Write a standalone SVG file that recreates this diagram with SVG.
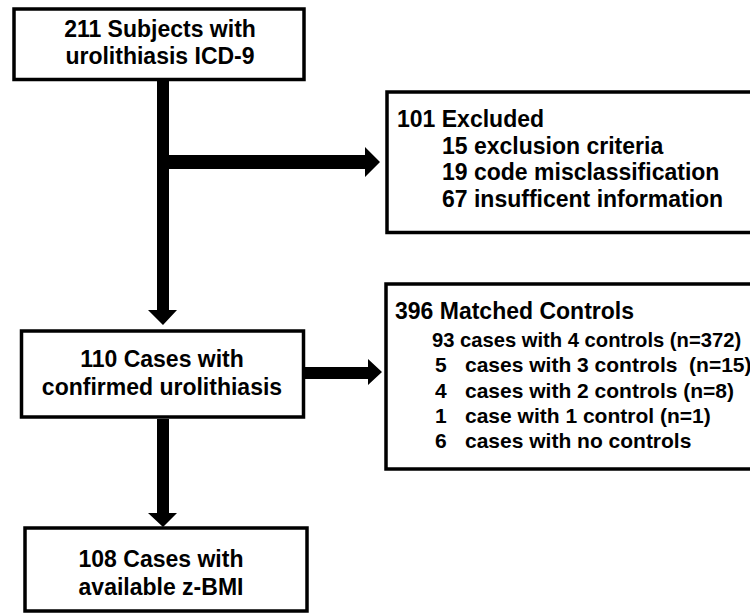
<svg xmlns="http://www.w3.org/2000/svg" width="750" height="614" viewBox="0 0 750 614">
  <style>
    .box { fill: #ffffff; stroke: #000000; stroke-width: 3.5; }
    .t { font-family: "Liberation Sans", Arial, sans-serif; font-weight: bold; font-size: 23px; fill: #000000; }
    .c { text-anchor: middle; }
    .s { font-size: 21px; white-space: pre; }
    .n { font-size: 20.2px; }
    .arrow { fill: #000000; stroke: none; }
  </style>
  <rect width="750" height="614" fill="#ffffff"/>
  <g id="connectors">
    <polygon class="arrow" points="157,81 169,81 169,310 177,310 163,325 148,310 157,310"/>
    <polygon class="arrow" points="169,155 365,155 365,147 380,162 365,177 365,169 169,169"/>
    <polygon class="arrow" points="305,367 368,367 368,359 382,372 368,385 368,379 305,379"/>
    <polygon class="arrow" points="157,419 169,419 169,513 177,513 163,527 148,513 157,513"/>
  </g>
  <g id="subjects">
    <rect class="box" x="14" y="9" width="290" height="70.5"/>
    <text class="t c" x="160" y="37">211 Subjects with</text>
    <text class="t c" x="160" y="64">urolithiasis ICD-9</text>
  </g>
  <g id="excluded">
    <rect class="box" x="387" y="92" width="380" height="140.5"/>
    <text class="t" x="397" y="127">101 Excluded</text>
    <text class="t" x="442" y="154">15 exclusion criteria</text>
    <text class="t" x="442" y="180">19 code misclassification</text>
    <text class="t" x="442" y="207">67 insufficent information</text>
  </g>
  <g id="cases">
    <rect class="box" x="21.5" y="331" width="282" height="86"/>
    <text class="t c" x="162" y="367">110 Cases with</text>
    <text class="t c" x="162" y="395">confirmed urolithiasis</text>
  </g>
  <g id="controls">
    <rect class="box" x="386" y="284" width="380" height="185"/>
    <text class="t" x="395" y="319">396 Matched Controls</text>
    <text class="t s n" x="432" y="347">93 cases with 4 controls (n=372)</text>
    <text class="t s" x="435" y="372">5</text>
    <text class="t s" x="465" y="372">cases with 3 controls  (n=15)</text>
    <text class="t s" x="435" y="398">4</text>
    <text class="t s" x="465" y="398">cases with 2 controls (n=8)</text>
    <text class="t s" x="435" y="423">1</text>
    <text class="t s" x="465" y="423">case with 1 control (n=1)</text>
    <text class="t s" x="435" y="448">6</text>
    <text class="t s" x="465" y="448">cases with no controls</text>
  </g>
  <g id="zbmi">
    <rect class="box" x="25" y="528" width="282" height="83"/>
    <text class="t c" x="161" y="567">108 Cases with</text>
    <text class="t c" x="161" y="595">available z-BMI</text>
  </g>
</svg>
